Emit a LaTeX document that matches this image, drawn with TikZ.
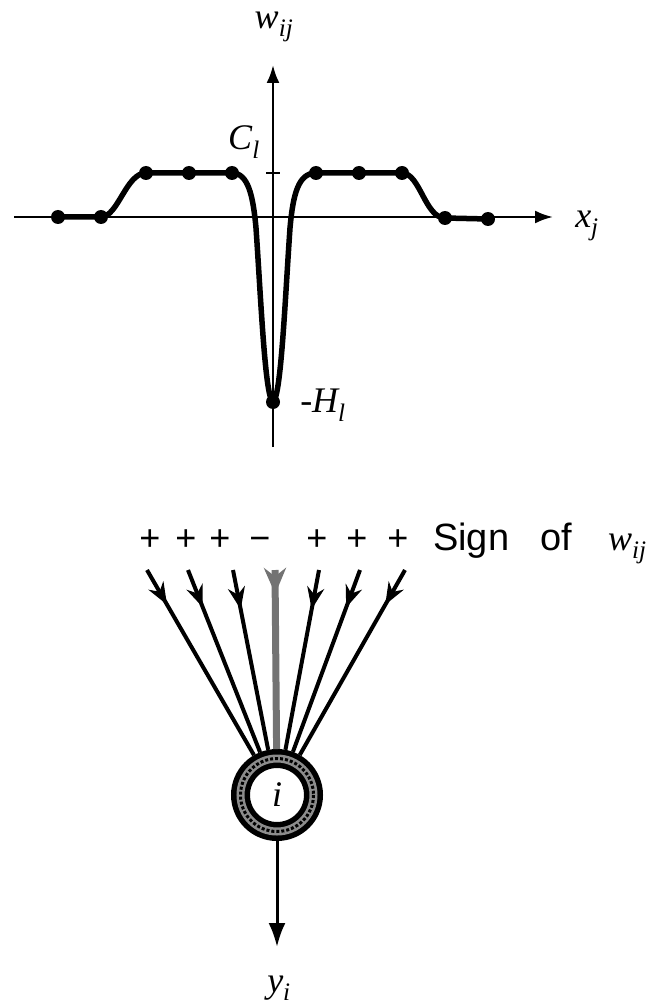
\documentclass[tikz,border=0pt]{standalone}
\usepackage{fontspec}
\setmainfont{Liberation Serif}
\newfontfamily\sansf{Liberation Sans}
\usetikzlibrary{arrows.meta,decorations.markings}
\begin{document}
\begin{tikzpicture}[x=1pt,y=-1pt,
  axis/.style={line width=2.6pt,-{Latex[length=18pt,width=13pt]}},
  curve/.style={line width=5.5pt,line join=round,line cap=round},
  dot/.style={circle,fill=black,inner sep=0pt,minimum size=14pt},
  lab/.style={font=\fontsize{36}{40}\selectfont\itshape,inner sep=0pt},
  sgn/.style={font=\fontsize{36}{40}\selectfont\sansf,inner sep=0pt,anchor=base},
  word/.style={font=\fontsize{38}{40}\selectfont\sansf,inner sep=0pt,anchor=base west},
  ring/.style={circle,draw=black,line width=19pt,minimum size=73pt,inner sep=0pt},
  inarrow/.style={line width=4pt,postaction={decorate},
    decoration={markings,mark=at position 40pt with {\arrow{Stealth[length=22pt,width=17pt]}}}},
  grayarrow/.style={line width=7pt,draw=black!55,postaction={decorate},
    decoration={markings,mark=at position 24pt with {\arrow[black!55]{Stealth[length=26pt,width=22pt]}}}},
  outarrow/.style={line width=3pt,-{Latex[length=24pt,width=17pt]}}
]
\useasboundingbox (0,0) rectangle (669,1008);
% axes
\coordinate (xl) at (14,217);
\coordinate (xr) at (553,217);
\coordinate (vb) at (273,447);
\coordinate (vt) at (273,65);
\coordinate (tk1) at (266,173);
\coordinate (tk2) at (280,173);
\draw[axis] (xl) -- (xr);
\draw[axis] (vb) -- (vt);
\draw[line width=2.2pt] (tk1) -- (tk2);
% dots
\node[dot] (d1) at (58,217) {};
\node[dot] (d2) at (101,217) {};
\node[dot] (d3) at (146,173) {};
\node[dot] (d4) at (189,173) {};
\node[dot] (d5) at (232,173) {};
\node[dot] (m) at (273,402) {};
\node[dot] (d6) at (316,173) {};
\node[dot] (d7) at (359,173) {};
\node[dot] (d8) at (402,173) {};
\node[dot] (d9) at (445,218) {};
\node[dot] (d10) at (488,219) {};
\draw[curve] (d1.center) -- (d2.center)
  .. controls (118,217) and (126,173) .. (d3.center) -- (d4.center) -- (d5.center)
  .. controls (248,173) and (253,195) .. (256,228)
  .. controls (261,300) and (265,398) .. (m.center)
  .. controls (281,398) and (285,300) .. (290,228)
  .. controls (293,195) and (298,173) .. (d6.center) -- (d7.center) -- (d8.center)
  .. controls (420,173) and (425,218) .. (d9.center) -- (d10.center);
% labels
\node[lab] (w) at (274,27) {w\textsubscript{ij}};
\node[lab] (c) at (244,142) {C\textsubscript{l}};
\node[lab] (xj) at (587,226) {x\textsubscript{j}};
\node[lab] (h) at (323,405) {-H\textsubscript{l}};
% signs
\node[sgn] (s1) at (150,550) {+};
\node[sgn] (s2) at (186,550) {+};
\node[sgn] (s3) at (220,550) {+};
\node[sgn] (s4) at (260,550) {−};
\node[sgn] (s5) at (317,550) {+};
\node[sgn] (s6) at (357,550) {+};
\node[sgn] (s7) at (398,550) {+};
\node[word] (sg) at (433,550) {Sign};
\node[word] (of) at (540,550) {of};
\node[lab,anchor=base west] (wij) at (608,550) {w\textsubscript{ij}};
% neuron
\node[ring,lab] (i) at (277,795) {i};
\draw[black!45,line width=8pt] (i.center) circle (36.5);
\draw[black,line width=3pt,dotted] (i.center) circle (36.5);
\coordinate (t1) at (147,570);
\coordinate (t2) at (188,570);
\coordinate (t3) at (233,570);
\coordinate (t4) at (275,570);
\coordinate (t5) at (319,570);
\coordinate (t6) at (360,570);
\coordinate (t7) at (405,570);
\draw[inarrow] (t1) -- (i);
\draw[inarrow] (t2) -- (i);
\draw[inarrow] (t3) -- (i);
\draw[grayarrow] (t4) -- (i);
\draw[inarrow] (t5) -- (i);
\draw[inarrow] (t6) -- (i);
\draw[inarrow] (t7) -- (i);
\coordinate (yo) at (277,947);
\draw[outarrow] (i) -- (yo);
\node[lab] (yi) at (279,988) {y\textsubscript{i}};
\end{tikzpicture}
\end{document}
